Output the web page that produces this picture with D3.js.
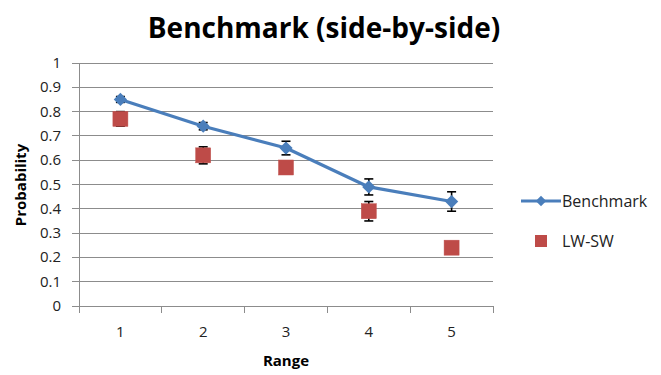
<!DOCTYPE html>
<html><head><meta charset="utf-8">
<script src="https://cdn.jsdelivr.net/npm/d3@7"></script>
<style>body{margin:0;background:#fff}svg{display:block}text{font-family:"Open Sans",sans-serif}</style>
</head><body>
<svg id="c" width="661" height="375"></svg>
<script>
const categories = ["1","2","3","4","5"];
const benchmark = [0.85, 0.74, 0.65, 0.49, 0.43];
const benchmarkErr = [0.012, 0.015, 0.028, 0.033, 0.04];
const lwsw = [0.77, 0.62, 0.57, 0.39, 0.24];
const lwswErr = [0.03, 0.035, 0.015, 0.04, 0.02];
const yTicks = [0,0.1,0.2,0.3,0.4,0.5,0.6,0.7,0.8,0.9,1];

const svg = d3.select("#c");
const L = 79, R = 493, T = 63, B = 306;
const x = d3.scaleBand().domain(categories).range([L, R]);
const y = d3.scaleLinear().domain([0,1]).range([B, T]);

svg.append("g").selectAll("line").data(yTicks).join("line")
  .attr("x1", L - 7).attr("x2", R).attr("y1", d=>y(d)).attr("y2", d=>y(d))
  .attr("stroke", "#8c8c8c").attr("stroke-width", 1).attr("shape-rendering","crispEdges");
svg.append("line").attr("x1",L).attr("x2",L).attr("y1",T).attr("y2",B)
  .attr("stroke","#8c8c8c").attr("shape-rendering","crispEdges");
const bounds = categories.map(c=>x(c)).concat([R]);
svg.append("g").selectAll("line").data(bounds).join("line")
  .attr("x1", d=>d).attr("x2", d=>d).attr("y1", B).attr("y2", B+7)
  .attr("stroke","#8c8c8c").attr("shape-rendering","crispEdges");
svg.append("g").selectAll("text").data(yTicks).join("text")
  .attr("x", 61).attr("y", d=>y(d)+5).attr("text-anchor","end")
  .attr("font-size",15).attr("fill","#222").text(d=>d3.format("")(d));
svg.append("g").selectAll("text").data(categories).join("text")
  .attr("x", d=>x(d)+x.bandwidth()/2).attr("y", 337).attr("text-anchor","middle")
  .attr("font-size",15).attr("fill","#222").text(d=>d);
svg.append("text").attr("x",324).attr("y",38).attr("text-anchor","middle")
  .attr("font-size",28).attr("font-weight","bold").attr("fill","#000").text("Benchmark (side-by-side)");
svg.append("text").attr("x",286).attr("y",366).attr("text-anchor","middle")
  .attr("font-size",15).attr("font-weight","bold").attr("fill","#000").text("Range");
svg.append("text").attr("transform","translate(26,185) rotate(-90)").attr("text-anchor","middle")
  .attr("font-size",15).attr("font-weight","bold").attr("fill","#000").text("Probability");

const cx = d => x(d) + x.bandwidth()/2;
const blue = "#4a7ebb", red = "#be4b48";

function errBars(vals, errs){
  const g = svg.append("g").attr("stroke","#000").attr("stroke-width",1.6);
  categories.forEach((c,i)=>{
    const xx = cx(c), y1 = y(vals[i]+errs[i]), y2 = y(vals[i]-errs[i]);
    g.append("line").attr("x1",xx).attr("x2",xx).attr("y1",y1).attr("y2",y2);
    g.append("line").attr("x1",xx-4.5).attr("x2",xx+4.5).attr("y1",y1).attr("y2",y1);
    g.append("line").attr("x1",xx-4.5).attr("x2",xx+4.5).attr("y1",y2).attr("y2",y2);
  });
}
errBars(lwsw, lwswErr);
errBars(benchmark, benchmarkErr);

svg.append("g").selectAll("rect").data(lwsw).join("rect")
  .attr("x",(d,i)=>cx(categories[i])-7.5).attr("y",d=>y(d)-7.5)
  .attr("width",15).attr("height",15).attr("fill",red).attr("stroke","#c0504d").attr("stroke-width",0.5);

const line = d3.line().x((d,i)=>cx(categories[i])).y(d=>y(d));
svg.append("path").datum(benchmark).attr("d",line).attr("fill","none")
  .attr("stroke",blue).attr("stroke-width",3.2).attr("stroke-linejoin","round");
svg.append("g").selectAll("path").data(benchmark).join("path")
  .attr("transform",(d,i)=>`translate(${cx(categories[i])},${y(d)}) rotate(45)`)
  .attr("d", d3.symbol().type(d3.symbolSquare).size(88)).attr("fill",blue);

const lg = svg.append("g");
lg.append("line").attr("x1",521).attr("x2",561).attr("y1",201).attr("y2",201)
  .attr("stroke",blue).attr("stroke-width",3.2);
lg.append("path").attr("transform","translate(541,201) rotate(45)")
  .attr("d", d3.symbol().type(d3.symbolSquare).size(55)).attr("fill",blue);
lg.append("text").attr("x",562).attr("y",207).attr("font-size",16).attr("fill","#222").text("Benchmark");
lg.append("rect").attr("x",535).attr("y",235).attr("width",12).attr("height",12).attr("fill",red);
lg.append("text").attr("x",562).attr("y",247).attr("font-size",16).attr("fill","#222").text("LW-SW");
</script>
</body></html>
